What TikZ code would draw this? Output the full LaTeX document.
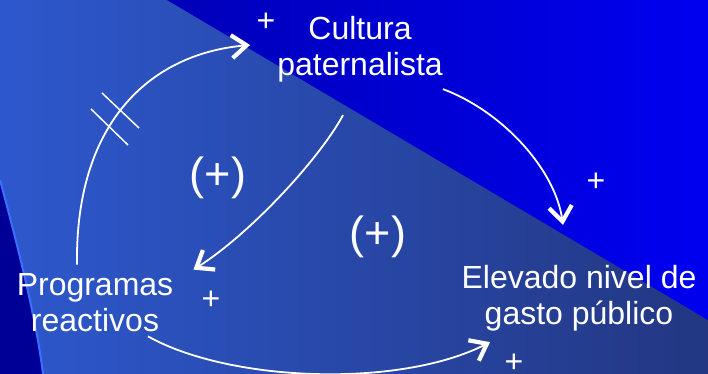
\documentclass[tikz,border=0pt]{standalone}
\usepackage{fontspec}
\setmainfont{Liberation Sans}
\usepackage{tikz}
\usetikzlibrary{arrows.meta,positioning}

\definecolor{bgleft}{RGB}{45,88,205}
\definecolor{bgright}{RGB}{35,55,130}
\definecolor{topleft}{RGB}{0,0,185}
\definecolor{topright}{RGB}{0,0,240}
\definecolor{edgedark}{RGB}{0,0,150}
\definecolor{edgelight}{RGB}{60,110,255}

\begin{document}
\begin{tikzpicture}[x=1pt, y=1pt,
      lbl/.style={text=white, align=center, inner sep=0pt, font=\fontsize{32}{36}\selectfont},
      sgn/.style={text=white, inner sep=0pt, font=\fontsize{32}{36}\selectfont},
      loopsgn/.style={text=white, inner sep=0pt, font=\fontsize{45}{50}\selectfont},
      arr/.style={white, line width=1.8pt, -{Straight Barb[length=15pt, width=23pt, line width=4.2pt]}},
    ]
      % background
      \useasboundingbox (0,0) rectangle (708,374);
      \shade[left color=bgleft, right color=bgright] (0,0) rectangle (708,374);
      \shade[left color=topleft, right color=topright] (167,374) -- (708,374) -- (708,54) -- cycle;
      \fill[edgedark] (0,194) .. controls (20,120) and (37,50) .. (43,0) -- (0,0) -- cycle;
      \draw[edgelight, line width=2pt] (0,194) .. controls (20,120) and (37,50) .. (43,0);

      % variables
      \node[lbl] (cult) at (360,325) {Cultura\\paternalista};
      \node[lbl] (prog) at (95,71) {Programas\\reactivos};
      \node[lbl] (elev) at (579,76) {Elevado nivel de\\gasto público};

      % loops
      \node[loopsgn] (loopa) at (218,196) {(+)};
      \node[loopsgn] (loopb) at (378,137) {(+)};

      % links
      \draw[arr] ([shift={(-18,9)}]prog.north) .. controls +(-2,141) and +(-101,-9) .. ([shift={(-27,4)}]cult.west);
      \draw[arr] ([yshift=-7pt]cult.south east) .. controls +(59,-22) and +(-8,56) .. ([shift={(-16,40)}]elev.north);
      \draw[arr] ([shift={(-17,-33)}]cult.south) .. controls +(-23,-43) and +(57,36) .. ([shift={(20,4)}]prog.north east);
      \draw[arr] ([shift={(53,-4)}]prog.south) .. controls +(82,-46) and +(-90,-46) .. ([shift={(-89,-11)}]elev.south);

      % delay
      \draw[white, line width=1.5pt] (102,281) -- (139,246) (91,265) -- (128,229);

      % polarities
      \node[sgn] (pa) at (266,352) {+};
      \node[sgn] (pb) at (596,192) {+};
      \node[sgn] (pc) at (211,74) {+};
      \node[sgn] (pd) at (514,11) {+};
    \end{tikzpicture}
\end{document}
